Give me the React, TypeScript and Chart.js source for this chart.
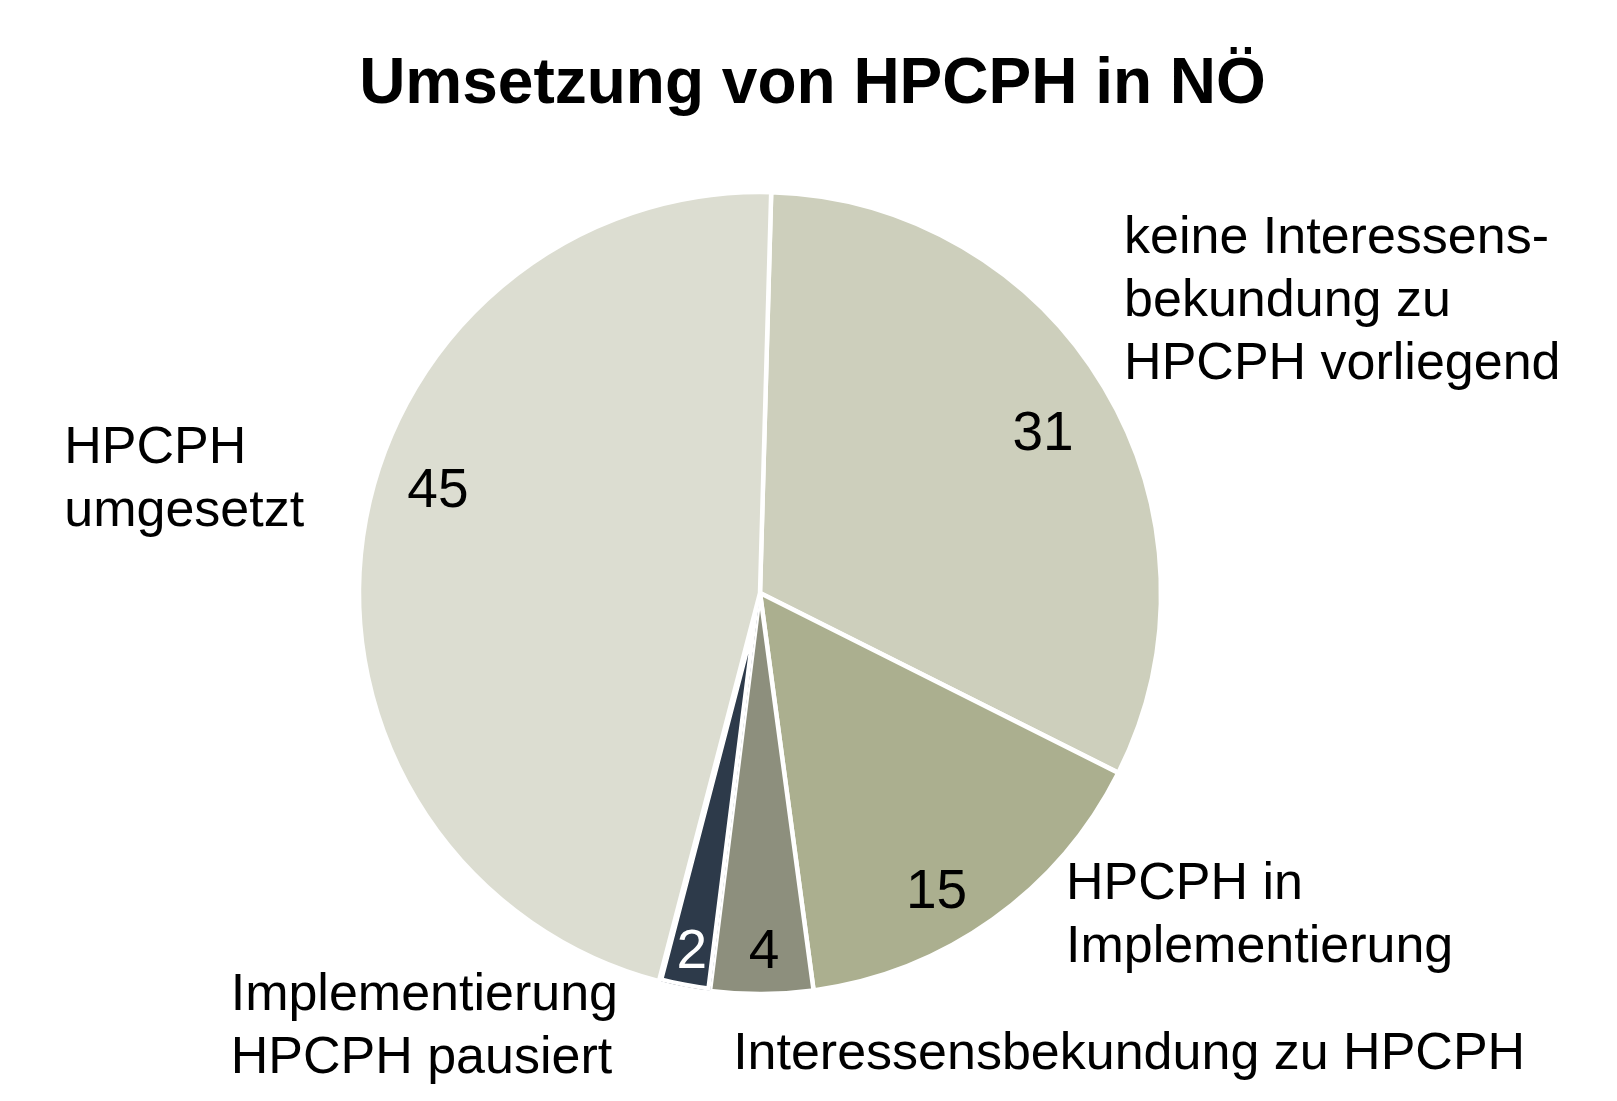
import React, { useEffect, useRef } from "react";
import { Chart, registerables } from "chart.js";

Chart.register(...registerables);

const TITLE = "Umsetzung von HPCPH in NÖ";

const categories: string[][] = [
  ["keine Interessens-", "bekundung zu", "HPCPH vorliegend"],
  ["HPCPH in", "Implementierung"],
  ["Interessensbekundung zu HPCPH"],
  ["Implementierung", "HPCPH pausiert"],
  ["HPCPH", "umgesetzt"],
];
const values = [31, 15, 4, 2, 45];
const colors = ["#CDCFBC", "#ABAF8F", "#8D8F7D", "#2D3A4A", "#DCDDD1"];
const valueTextColors = ["#000000", "#000000", "#000000", "#FFFFFF", "#000000"];
const borderAligns = ["center", "center", "center", "inner", "center"];
const borderWidths = [4.5, 4.5, 4.5, 4, 4.5];

// value label placement: [angle shift from slice bisector (deg), radius fraction]
const valueLabelPlacement: number[][] = [
  [1.0, 0.814],
  [4.6, 0.857],
  [-0.4, 0.886],
  [0, 0.902],
  [10, 0.845],
];
// outer label placement: [left x, first baseline y] relative to pie centre, in radii
const outerLabelPlacement: number[][] = [
  [0.908, -0.848],
  [0.763, 0.762],
  [-0.067, 1.187],
  [-1.32, 1.04],
  [-1.735, -0.325],
];

const FONT = '"Liberation Sans", Arial, sans-serif';

const labelPlugin = {
  id: "pieLabels",
  afterDraw(chart: any) {
    const ctx = chart.ctx as CanvasRenderingContext2D;
    const meta = chart.getDatasetMeta(0);
    ctx.save();
    ctx.fillStyle = "#000";
    ctx.font = `bold 64px ${FONT}`;
    ctx.textAlign = "center";
    ctx.textBaseline = "alphabetic";
    ctx.fillText(TITLE, chart.width / 2 + 4, 103);

    meta.data.forEach((arc: any, i: number) => {
      const { x, y, startAngle, endAngle, outerRadius } = arc.getProps(
        ["x", "y", "startAngle", "endAngle", "outerRadius"],
        true
      );
      const [shift, frac] = valueLabelPlacement[i];
      const a = (startAngle + endAngle) / 2 + (shift * Math.PI) / 180;
      const r = outerRadius * frac;
      const vs = 55;
      ctx.font = `${vs}px ${FONT}`;
      ctx.textAlign = "center";
      ctx.textBaseline = "alphabetic";
      ctx.fillStyle = valueTextColors[i];
      ctx.fillText(String(values[i]), x + Math.cos(a) * r, y + Math.sin(a) * r + 0.358 * vs);

      const [lx, ly] = outerLabelPlacement[i];
      ctx.font = `52px ${FONT}`;
      ctx.textAlign = "left";
      ctx.fillStyle = "#000";
      categories[i].forEach((line, j) => {
        ctx.fillText(line, x + lx * outerRadius, y + ly * outerRadius + j * 63);
      });
    });
    ctx.restore();
  },
};

export default function App() {
  const ref = useRef<HTMLCanvasElement | null>(null);
  useEffect(() => {
    if (!ref.current) return;
    const chart = new Chart(ref.current, {
      type: "pie",
      data: {
        labels: categories.map((c) => c.join(" ")),
        datasets: [
          {
            data: values,
            backgroundColor: colors,
            borderColor: "#FFFFFF",
            borderWidth: borderWidths,
            borderAlign: borderAligns,
          } as any,
        ],
      },
      options: {
        responsive: false,
        animation: false,
        rotation: 1.6,
        radius: 401,
        layout: { padding: { left: 0, right: 97, top: 85, bottom: 0 } },
        plugins: {
          legend: { display: false },
          tooltip: { enabled: false },
          title: { display: false },
        },
      } as any,
      plugins: [labelPlugin],
    });
    return () => chart.destroy();
  }, []);
  return (
    <div style={{ position: "absolute", left: 0, top: 0, width: 1617, height: 1101, background: "#fff" }}>
      <canvas ref={ref} width={1617} height={1101} style={{ width: 1617, height: 1101 }} />
    </div>
  );
}
